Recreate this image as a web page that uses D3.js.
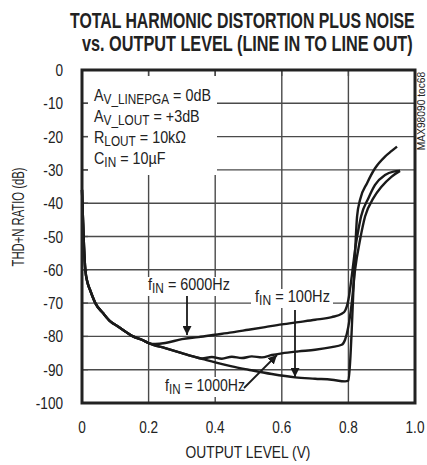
<!DOCTYPE html>
<html><head><meta charset="utf-8">
<script src="https://cdn.jsdelivr.net/npm/d3@7/dist/d3.min.js"></script>
<style>
body{margin:0;background:#fff;}
svg{display:block;font-family:"Liberation Sans",Arial,sans-serif;}
</style></head><body>
<svg id="c" width="427" height="465"></svg>
<script>
const xTicks = [0, 0.2, 0.4, 0.6, 0.8, 1.0];
const xTickLabels = ["0", "0.2", "0.4", "0.6", "0.8", "1.0"];
const yTicks = [0, -10, -20, -30, -40, -50, -60, -70, -80, -90, -100];
const yTickLabels = ["0", "-10", "-20", "-30", "-40", "-50", "-60", "-70", "-80", "-90", "-100"];

const x100 = [0, 0.003, 0.006, 0.01, 0.017, 0.024, 0.04, 0.063, 0.085, 0.108, 0.13, 0.153, 0.18, 0.2, 0.25, 0.3, 0.33, 0.37, 0.4, 0.45, 0.5, 0.57, 0.64, 0.7, 0.75, 0.79, 0.8, 0.805, 0.81, 0.815, 0.82, 0.826, 0.835, 0.856, 0.88, 0.91, 0.93, 0.946];
const y100 = [-36, -45, -53, -60, -64, -66, -70, -73, -75.5, -77, -78.5, -80, -81, -82, -83.5, -85, -85.9, -87, -87.8, -89, -90, -91.3, -92.3, -92.7, -93, -93.5, -93.3, -88, -78, -66, -55, -44, -39, -34, -29.5, -26, -24.3, -23];

const x1000 = [0, 0.003, 0.006, 0.01, 0.017, 0.024, 0.04, 0.063, 0.085, 0.108, 0.13, 0.153, 0.18, 0.2, 0.25, 0.3, 0.33, 0.36, 0.39, 0.42, 0.45, 0.48, 0.51, 0.54, 0.57, 0.6, 0.65, 0.7, 0.75, 0.78, 0.79, 0.8, 0.81, 0.82, 0.835, 0.85, 0.875, 0.9, 0.93, 0.955];
const y1000 = [-36, -45, -53, -60, -64, -66, -70, -73, -75.5, -77, -78.5, -80, -81, -82, -83.5, -85, -85.9, -86.6, -86.2, -86.7, -86.1, -86.5, -86, -86.3, -85.6, -85.1, -84.5, -84, -83.2, -82.5, -81, -77, -70, -60, -51, -44, -38.5, -35, -32, -30.3];

const x6000 = [0, 0.003, 0.006, 0.01, 0.017, 0.024, 0.04, 0.063, 0.085, 0.108, 0.13, 0.153, 0.18, 0.2, 0.22, 0.25, 0.3, 0.35, 0.4, 0.45, 0.5, 0.55, 0.6, 0.65, 0.7, 0.75, 0.78, 0.79, 0.8, 0.81, 0.82, 0.83, 0.838, 0.86, 0.88, 0.91, 0.935, 0.955];
const y6000 = [-36, -45, -53, -60, -64, -66, -70, -73, -75.5, -77, -78.5, -80, -81, -82, -82.3, -82, -80.8, -80.2, -79.5, -78.8, -78, -77.2, -76.4, -75.7, -75, -74.2, -73.2, -72.3, -69, -62, -54, -48, -44, -38.5, -34.5, -31.5, -30.5, -30.3];

const svg = d3.select("#c");
const L = 82, R = 415, T = 70, B = 403;
const x = d3.scaleLinear().domain([0, 1]).range([L, R]);
const y = d3.scaleLinear().domain([-100, 0]).range([B, T]);
const INK = "#222";

function ctext(parent, px, py, anchor, size, target, build, fixedSx) {
  const t = parent.append("text").attr("text-anchor", anchor).attr("font-size", size).attr("fill", INK)
    .attr("transform", `translate(${px},${py})`);
  build(t);
  let sx = fixedSx;
  if (target) { const w = t.node().getBBox().width; sx = target / w; }
  t.attr("transform", `translate(${px},${py}) scale(${sx},1)`);
  return t;
}
function sub(t, main, subtxt, rest, subSize) {
  t.append("tspan").text(main);
  t.append("tspan").attr("font-size", subSize).attr("dy", 3).text(subtxt);
  t.append("tspan").attr("dy", -3).text(rest);
}

// Title
const tg = svg.append("g").attr("font-weight", "bold");
ctext(tg, 70, 28, "start", 22, 345, t => t.text("TOTAL HARMONIC DISTORTION PLUS NOISE"));
ctext(tg, 82, 51, "start", 22, 331, t => t.text("vs. OUTPUT LEVEL (LINE IN TO LINE OUT)"));

// Grid
const grid = svg.append("g").attr("stroke", "#4a4a4a").attr("stroke-width", 1.4);
grid.selectAll("line.v").data(xTicks.slice(1, -1)).join("line")
  .attr("x1", d => x(d)).attr("x2", d => x(d)).attr("y1", T).attr("y2", B);
grid.selectAll("line.h").data(yTicks.slice(1, -1)).join("line")
  .attr("y1", d => y(d)).attr("y2", d => y(d)).attr("x1", L).attr("x2", R);

svg.append("rect").attr("x", 88).attr("y", 76).attr("width", 129).attr("height", 99).attr("fill", "#fff");
const stubs = svg.append("g").attr("stroke", "#4a4a4a").attr("stroke-width", 1.4);
stubs.selectAll("line.a").data(xTicks.slice(1, -1)).join("line")
  .attr("x1", d => x(d)).attr("x2", d => x(d)).attr("y1", T).attr("y2", T + 6);
stubs.selectAll("line.b").data(yTicks.slice(1, -1)).join("line")
  .attr("y1", d => y(d)).attr("y2", d => y(d)).attr("x1", L).attr("x2", L + 6);

svg.append("rect").attr("x", 146).attr("y", 277).attr("width", 87).attr("height", 19).attr("fill", "#fff");
svg.append("rect").attr("x", 251).attr("y", 289).attr("width", 82).attr("height", 19).attr("fill", "#fff");
svg.append("rect").attr("x", 163).attr("y", 377).attr("width", 82).attr("height", 20).attr("fill", "#fff");

const line = d3.line().x(d => x(d[0])).y(d => y(d[1])).curve(d3.curveMonotoneX);
const series = [[x100, y100], [x1000, y1000], [x6000, y6000]];
svg.append("g").selectAll("path").data(series).join("path")
  .attr("d", s => line(s[0].map((v, i) => [v, s[1][i]])))
  .attr("fill", "none").attr("stroke", "#1a1a1a").attr("stroke-width", 2.4).attr("stroke-linejoin", "round");

svg.append("rect").attr("x", L).attr("y", T).attr("width", R - L).attr("height", B - T)
  .attr("fill", "none").attr("stroke", "#222").attr("stroke-width", 3);

const SX = 0.8;
yTicks.forEach((d, i) => ctext(svg, 63, y(d) + 6, "end", 17, null, t => t.text(yTickLabels[i]), SX));
xTicks.forEach((d, i) => ctext(svg, x(d), 433, "middle", 17, null, t => t.text(xTickLabels[i]), SX));
ctext(svg, 248, 458, "middle", 17, 125, t => t.text("OUTPUT LEVEL (V)"));
ctext(svg.append("g").attr("transform", "translate(24,217) rotate(-90)"), 0, 0, "middle", 17, 99, t => t.text("THD+N RATIO (dB)"));
ctext(svg.append("g").attr("transform", "translate(425,111) rotate(-90)"), 0, 0, "middle", 10, 79, t => t.text("MAX98090 toc68"));

const cond = [["A", "V_LINEPGA", " = 0dB"], ["A", "V_LOUT", " = +3dB"], ["R", "LOUT", " = 10kΩ"], ["C", "IN", " = 10µF"]];
const c0 = ctext(svg, 94, 101, "start", 17, 117, t => sub(t, ...cond[0], 14));
const csx = 117 / c0.node().getBBox().width;
cond.slice(1).forEach((c, i) => ctext(svg, 94, 122 + i * 21, "start", 17, null, t => sub(t, ...c, 14), csx));

ctext(svg, 148, 290, "start", 17, 82, t => sub(t, "f", "IN", " = 6000Hz", 14));
ctext(svg, 255, 302, "start", 17, 75, t => sub(t, "f", "IN", " = 100Hz", 14));
ctext(svg, 165, 391, "start", 17, 80, t => sub(t, "f", "IN", " = 1000Hz", 14));

const defs = svg.append("defs");
defs.append("marker").attr("id", "ah").attr("viewBox", "0 0 10 10").attr("refX", 10).attr("refY", 5)
  .attr("markerWidth", 5).attr("markerHeight", 5).attr("markerUnits", "strokeWidth").attr("orient", "auto")
  .append("path").attr("d", "M0,0 L10,5 L0,10 z").attr("fill", "#1a1a1a");
const arrows = [[187, 296, 187, 335], [295, 310, 295, 377], [244, 388, 277, 355]];
svg.append("g").selectAll("line").data(arrows).join("line")
  .attr("x1", d => d[0]).attr("y1", d => d[1]).attr("x2", d => d[2]).attr("y2", d => d[3])
  .attr("stroke", "#1a1a1a").attr("stroke-width", 1.8).attr("marker-end", "url(#ah)");
</script>
</body></html>
